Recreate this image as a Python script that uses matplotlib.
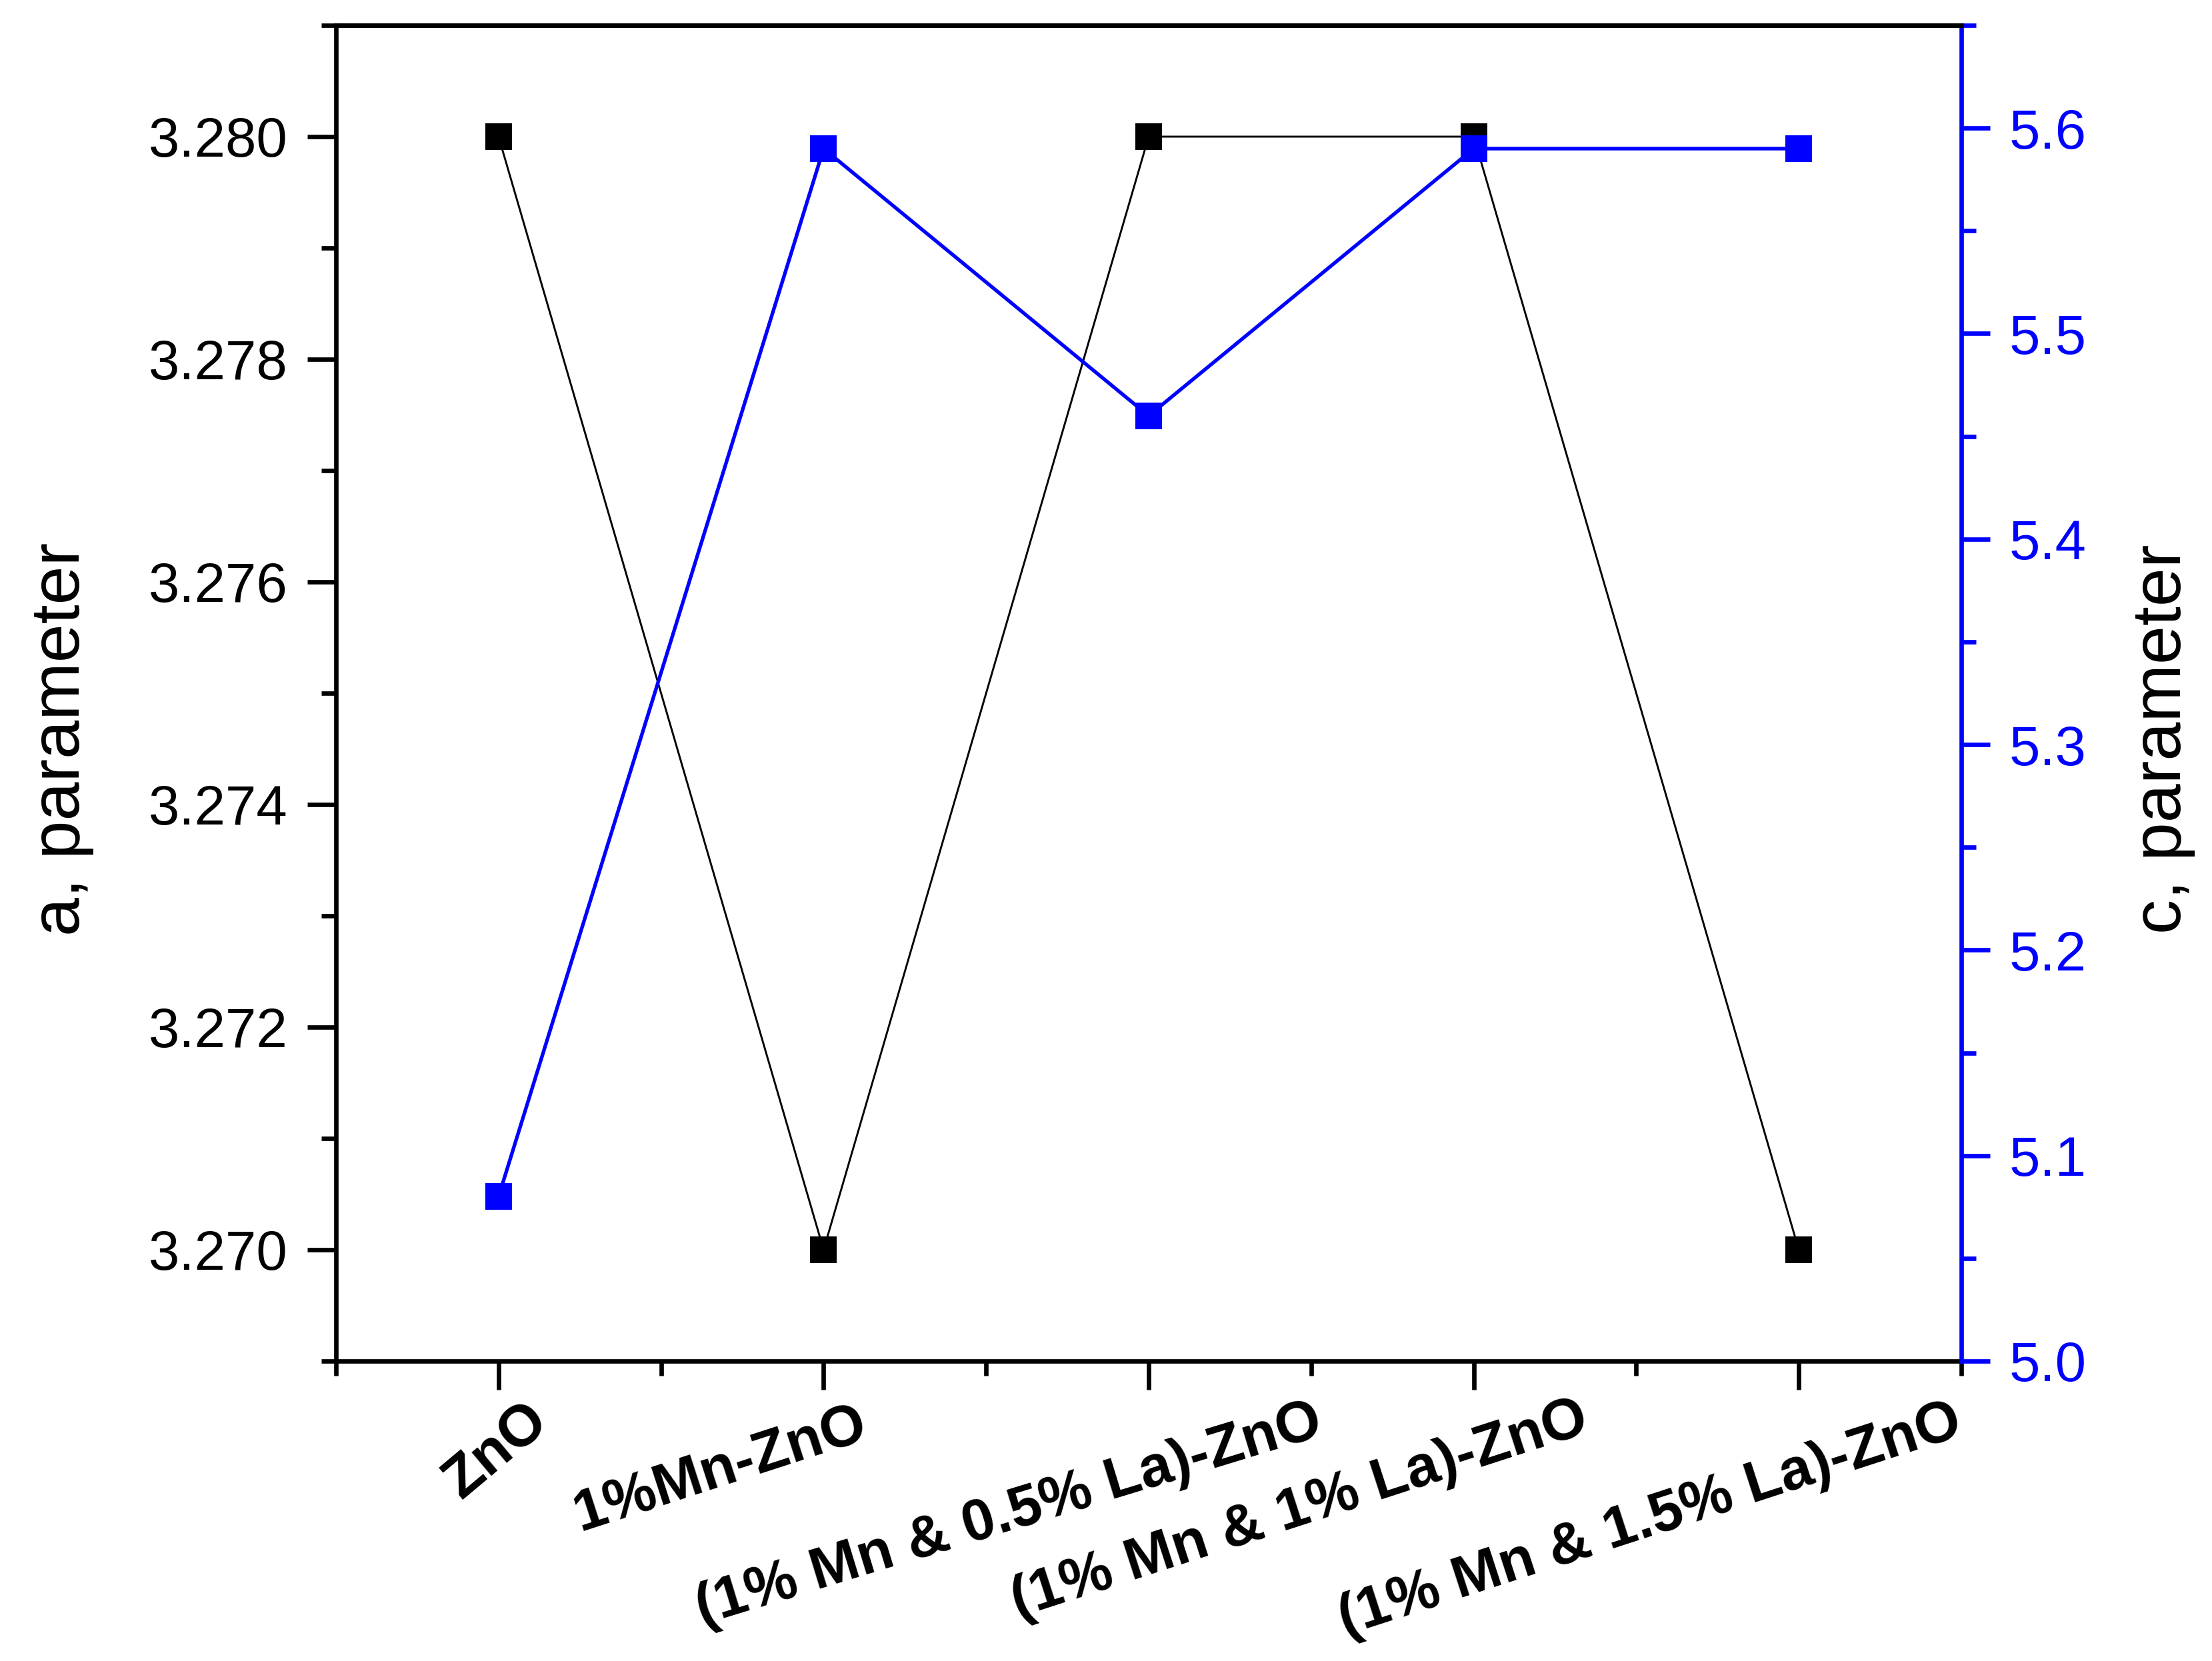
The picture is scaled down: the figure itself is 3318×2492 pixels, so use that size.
import matplotlib
matplotlib.use("Agg")
import matplotlib.pyplot as plt
from matplotlib.ticker import MultipleLocator, FormatStrFormatter
from matplotlib.transforms import blended_transform_factory, ScaledTranslation

categories = ["ZnO", "1%Mn-ZnO", "(1% Mn & 0.5% La)-ZnO",
              "(1% Mn & 1% La)-ZnO", "(1% Mn & 1.5% La)-ZnO"]
a_param = [3.280, 3.270, 3.280, 3.280, 3.270]
c_param = [5.08, 5.59, 5.46, 5.59, 5.59]

# label anchor offsets in points (dx, dy) relative to tick / bottom spine, and rotation
label_dx = [9.0, 12.0, 59.0, 37.5, 55.0]
label_dy = [-11.5, -13.0, -12.0, -11.0, -12.0]
label_rot = [40, 18, 17, 18, 18]

plt.rcParams['font.family'] = ['Liberation Sans', 'DejaVu Sans']

fig = plt.figure(figsize=(3318/300, 2492/300), dpi=300)
ax = fig.add_axes([504/3318, 1-2042/2492, (2942-504)/3318, (2042-38)/2492])
x = list(range(len(categories)))

ax.plot(x, a_param, color='black', lw=0.7, marker='s', ms=9.6,
        markerfacecolor='black', markeredgecolor='black', markeredgewidth=0)
ax.set_xlim(-0.5, 4.5)
ax.set_ylim(3.269, 3.281)
ax.yaxis.set_major_locator(MultipleLocator(0.002))
ax.yaxis.set_minor_locator(MultipleLocator(0.001))
ax.yaxis.set_major_formatter(FormatStrFormatter('%.3f'))
ax.set_xticks(x)
ax.set_xticklabels([])
ax.xaxis.set_minor_locator(MultipleLocator(0.5))
ax.tick_params(axis='both', which='major', direction='out', length=10.3, width=1.6,
               labelsize=20, pad=7)
ax.tick_params(axis='both', which='minor', direction='out', length=5.2, width=1.6)
ax.tick_params(axis='x', which='both', top=False)
ax.tick_params(axis='y', which='both', right=False)
for s in ax.spines.values():
    s.set_linewidth(1.6)
ax.spines['right'].set_visible(False)
ax.set_ylabel("a, parameter", fontsize=25)
ax.yaxis.set_label_coords(-0.149, 0.4656)

trans = blended_transform_factory(ax.transData, ax.transAxes)
for i, lab in enumerate(categories):
    off = ScaledTranslation(label_dx[i]/72, label_dy[i]/72, fig.dpi_scale_trans)
    ax.text(x[i], 0, lab, transform=trans + off, rotation=label_rot[i],
            rotation_mode='anchor', ha='right', va='top',
            fontsize=21, fontweight='bold')

ax2 = ax.twinx()
ax2.plot(x, c_param, color='blue', lw=1.3, marker='s', ms=9.6,
         markerfacecolor='blue', markeredgecolor='blue', markeredgewidth=0)
ax2.set_ylim(5.0, 5.65)
ax2.yaxis.set_major_locator(MultipleLocator(0.1))
ax2.yaxis.set_minor_locator(MultipleLocator(0.05))
ax2.yaxis.set_major_formatter(FormatStrFormatter('%.1f'))
ax2.tick_params(axis='y', which='major', direction='out', length=10.3, width=1.6,
                labelsize=20, pad=7, colors='blue')
ax2.tick_params(axis='y', which='minor', direction='out', length=5.2, width=1.6,
                colors='blue')
for s in ax2.spines.values():
    s.set_linewidth(1.6)
ax2.spines['right'].set_color('blue')
ax2.spines['left'].set_visible(False)
ax2.spines['bottom'].set_visible(False)
ax2.set_ylabel("c, parameter", fontsize=25, color='black')
ax2.yaxis.set_label_coords(1.104, 0.4656)

fig.savefig("out.png", dpi=300)
